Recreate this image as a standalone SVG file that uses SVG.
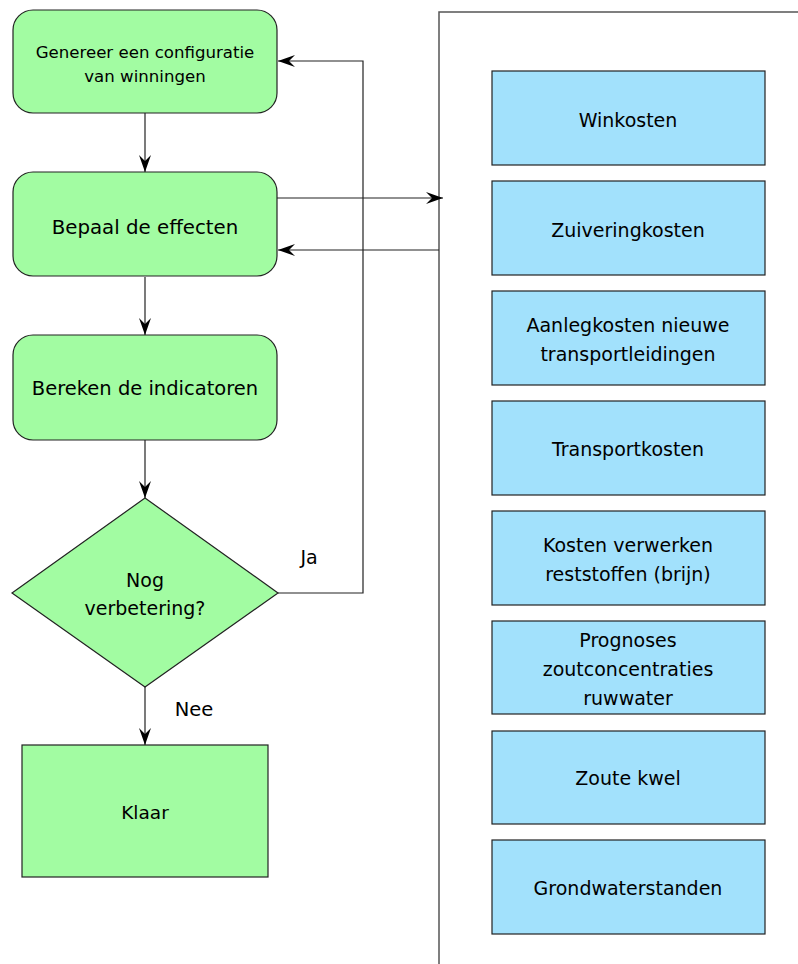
<svg xmlns="http://www.w3.org/2000/svg" width="798" height="964" viewBox="0 0 798 964">
<style>
.g{fill:#a2fca2;stroke:#222;stroke-width:1.2}
.b{fill:#a2e1fc;stroke:#222;stroke-width:1.2}
.t{font-family:"DejaVu Sans","Noto Sans",sans-serif;fill:#000;text-anchor:middle;dominant-baseline:central}
.r{font-size:19px}
.c{fill:none;stroke:#222;stroke-width:1.2}
</style>
<defs>
<marker id="a" markerWidth="20" markerHeight="14" refX="18" refY="7" orient="auto" markerUnits="userSpaceOnUse">
<path d="M1,1 L18,7 L1,13 L7,7 Z" fill="#000"/>
</marker>
</defs>
<rect x="0" y="0" width="798" height="964" fill="#fff"/>
<g id="container"><path d="M798,12 H439 V964" fill="none" stroke="#555" stroke-width="1.5"/></g>
<g id="connectors">
<path class="c" d="M145,113 V172" marker-end="url(#a)"/>
<path class="c" d="M145,277 V335" marker-end="url(#a)"/>
<path class="c" d="M145,440 V498" marker-end="url(#a)"/>
<path class="c" d="M145,687 V745" marker-end="url(#a)"/>
<path class="c" d="M278,593 H363 V61 H278" marker-end="url(#a)"/>
<path class="c" d="M277,198 H443" marker-end="url(#a)"/>
<path class="c" d="M439,250 H278" marker-end="url(#a)"/>
<text class="t" x="309" y="557" font-size="19">Ja</text>
<text class="t" x="194" y="709" font-size="19.5">Nee</text>
</g>
<g id="n1"><rect class="g" x="13" y="10" width="264" height="103" rx="20"/><text class="t" font-size="16.6" x="145" y="52">Genereer een configuratie</text><text class="t" font-size="16.6" x="145" y="76">van winningen</text></g>
<g id="n2"><rect class="g" x="13" y="172" width="264" height="104" rx="20"/><text class="t" font-size="19.8" x="145" y="227">Bepaal de effecten</text></g>
<g id="n3"><rect class="g" x="13" y="335" width="264" height="105" rx="20"/><text class="t" font-size="19.5" x="145" y="388">Bereken de indicatoren</text></g>
<g id="n4"><polygon class="g" points="145,498 278,593 145,687 12,593"/><text class="t" font-size="19" x="145" y="580">Nog</text><text class="t" font-size="19" x="145" y="608">verbetering?</text></g>
<g id="n5"><rect class="g" x="22" y="745" width="246" height="132"/><text class="t" font-size="18.5" x="145" y="812">Klaar</text></g>
<g id="r1"><rect class="b" x="492" y="71" width="273" height="94"/><text class="t r" x="628" y="120">Winkosten</text></g>
<g id="r2"><rect class="b" x="492" y="181" width="273" height="94"/><text class="t r" x="628" y="230">Zuiveringkosten</text></g>
<g id="r3"><rect class="b" x="492" y="291" width="273" height="94"/><text class="t r" x="628" y="325">Aanlegkosten nieuwe</text><text class="t r" x="628" y="354">transportleidingen</text></g>
<g id="r4"><rect class="b" x="492" y="401" width="273" height="94"/><text class="t r" x="628" y="449">Transportkosten</text></g>
<g id="r5"><rect class="b" x="492" y="511" width="273" height="94"/><text class="t r" x="628" y="545">Kosten verwerken</text><text class="t r" x="628" y="574">reststoffen (brijn)</text></g>
<g id="r6"><rect class="b" x="492" y="621" width="273" height="93"/><text class="t r" x="628" y="640">Prognoses</text><text class="t r" x="628" y="669">zoutconcentraties</text><text class="t r" x="628" y="698">ruwwater</text></g>
<g id="r7"><rect class="b" x="492" y="731" width="273" height="93"/><text class="t r" x="628" y="778">Zoute kwel</text></g>
<g id="r8"><rect class="b" x="492" y="840" width="273" height="94"/><text class="t r" x="628" y="888">Grondwaterstanden</text></g>
</svg>
